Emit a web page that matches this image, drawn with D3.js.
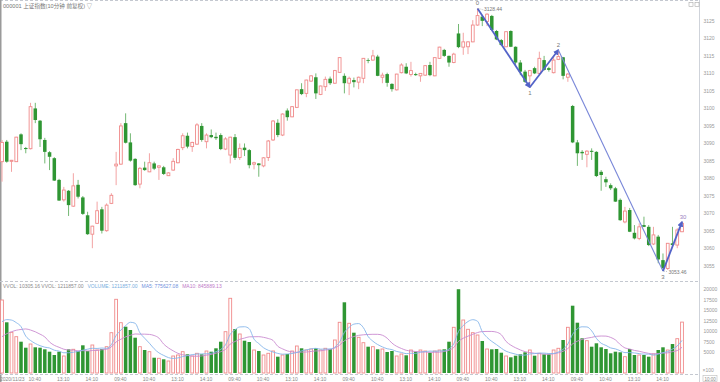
<!DOCTYPE html>
<html><head><meta charset="utf-8">
<script src="https://cdn.jsdelivr.net/npm/d3@7"></script>
<style>
body{margin:0;background:#fff;}
svg{display:block;font-family:"Liberation Sans",Arial,"Noto Sans CJK SC",sans-serif;}
</style>
</head><body>
<svg id="c" width="720" height="382"></svg>
<script>
// ---------- data ----------
const title = "000001 上证指数(10分钟 前复权) ▽";
const firstDate = "2020/11/23";
const dayTimes = ["09:40","09:50","10:00","10:10","10:20","10:30","10:40","10:50","11:00","11:10","11:20","11:30",
                  "13:10","13:20","13:30","13:40","13:50","14:00","14:10","14:20","14:30","14:40","14:50","15:00"];
const labelTimes = ["09:40","10:40","13:10","14:10"];
const dayCount = 6;

const open = [3084.7,3090.4,3084.8,3084.7,3092.5,3088.6,3088.4,3099.9,3096.4,3090.9,
3087.4,3085.7,3079.5,3073.8,3076.4,3072.0,3078.1,3074.5,3069.4,3064.0,
3067.1,3071.1,3065.0,3072.8,3083.5,3084.0,3095.7,3090.2,3085.5,3078.3,
3083.0,3081.8,3084.2,3083.1,3083.1,3080.7,3082.3,3084.4,3088.7,3092.1,
3089.0,3089.7,3094.9,3090.4,3092.3,3091.8,3092.3,3088.3,3086.6,3091.7,
3085.9,3088.7,3088.0,3084.0,3084.2,3083.5,3085.9,3090.9,3095.8,3092.3,
3099.3,3097.5,3100.2,3105.4,3104.2,3107.7,3108.8,3103.9,3106.1,3108.4,
3107.1,3110.2,3109.2,3107.1,3108.0,3107.4,3108.5,3113.7,3113.7,3114.7,
3108.8,3109.7,3106.9,3105.2,3110.1,3111.8,3109.6,3109.7,3109.2,3109.4,
3112.3,3109.2,3114.2,3116.6,3114.9,3113.0,3121.3,3117.4,3117.5,3118.9,
3123.7,3126.1,3124.7,3126.3,3122.0,3119.4,3117.5,3122.0,3117.5,3113.0,
3110.4,3109.2,3111.4,3109.9,3113.7,3111.4,3110.1,3113.9,3114.5,3108.8,
3100.6,3090.2,3087.5,3086.8,3087.8,3087.5,3081.8,3079.7,3078.0,3077.1,
3073.8,3067.5,3070.9,3064.4,3062.8,3066.6,3066.1,3061.2,3063.3,3056.6,
3054.2,3061.4,3060.9,3064.7];
const high = [3090.9,3090.9,3085.2,3091.8,3092.8,3088.9,3101.5,3101.5,3096.6,3091.5,
3087.7,3086.0,3079.8,3077.5,3076.6,3081.4,3079.5,3074.9,3070.4,3066.4,
3073.3,3071.8,3072.8,3075.7,3087.5,3095.7,3098.5,3092.8,3085.7,3083.2,
3084.7,3087.1,3084.7,3083.7,3083.5,3081.7,3085.7,3088.4,3092.8,3093.0,
3090.4,3095.7,3095.7,3092.8,3093.9,3093.0,3092.8,3091.7,3091.8,3092.6,
3089.9,3089.9,3088.3,3084.7,3084.3,3086.0,3090.9,3096.6,3096.8,3098.5,
3099.9,3100.6,3105.3,3107.1,3108.1,3109.4,3109.9,3106.4,3109.0,3109.0,
3110.9,3114.5,3109.9,3109.0,3108.7,3109.0,3114.3,3114.2,3116.6,3115.2,
3110.1,3110.1,3107.1,3109.8,3112.8,3112.8,3113.2,3110.1,3110.0,3112.3,
3113.2,3114.5,3117.5,3116.9,3115.0,3115.8,3124.0,3121.5,3119.1,3125.1,
3128.44,3126.6,3127.1,3126.6,3122.3,3119.7,3121.9,3122.2,3117.6,3113.7,
3110.9,3110.9,3111.8,3116.1,3114.9,3111.8,3114.7,3116.6,3114.6,3110.0,
3100.9,3090.9,3088.0,3088.0,3088.5,3087.7,3082.3,3080.4,3078.5,3077.5,
3074.2,3071.8,3071.5,3066.6,3067.1,3069.0,3066.6,3066.1,3063.8,3058.5,
3061.5,3066.1,3065.7,3067.5];
const low = [3079.0,3084.4,3081.8,3084.6,3088.0,3087.1,3088.2,3095.7,3088.9,3084.2,
3082.3,3079.2,3073.5,3073.3,3069.2,3071.8,3074.2,3069.5,3063.8,3060.0,
3066.9,3064.2,3064.7,3072.6,3078.0,3083.8,3089.9,3084.7,3077.8,3077.1,
3082.1,3081.7,3082.3,3079.5,3080.9,3080.6,3082.1,3084.2,3088.0,3088.5,
3087.5,3089.5,3090.4,3088.5,3091.4,3090.9,3088.0,3088.0,3084.2,3085.2,
3085.2,3086.3,3082.8,3082.5,3080.4,3083.1,3084.9,3090.6,3091.7,3092.0,
3096.4,3097.4,3100.0,3103.7,3103.1,3107.5,3102.6,3103.7,3104.9,3106.6,
3106.9,3110.0,3104.2,3103.7,3105.9,3105.4,3107.1,3112.8,3113.5,3109.1,
3107.1,3106.1,3104.7,3105.0,3109.9,3109.7,3109.0,3109.2,3107.5,3109.2,
3109.1,3109.1,3114.0,3114.6,3111.8,3112.8,3117.1,3115.2,3115.4,3118.8,
3123.5,3123.4,3123.4,3122.2,3119.4,3117.7,3117.4,3117.4,3112.3,3109.4,
3107.2,3105.93,3109.7,3109.7,3110.7,3110.4,3109.9,3113.7,3108.2,3107.5,
3090.0,3083.5,3085.2,3083.1,3085.2,3080.3,3076.4,3077.5,3076.6,3073.2,
3067.8,3067.1,3064.6,3062.5,3062.3,3066.0,3060.6,3060.9,3055.7,3053.46,
3053.8,3060.4,3060.0,3064.6];
const close = [3090.2,3084.7,3085.1,3091.7,3089.7,3088.3,3100.4,3096.6,3091.1,3087.5,
3086.1,3079.3,3073.6,3076.6,3072.3,3077.8,3074.7,3069.8,3064.0,3066.3,
3070.7,3065.0,3072.3,3075.1,3084.0,3094.9,3090.1,3085.0,3078.0,3082.8,
3082.3,3084.4,3082.7,3083.5,3081.2,3081.5,3084.8,3088.2,3092.1,3089.0,
3090.2,3095.2,3090.9,3092.3,3091.7,3091.4,3088.3,3091.2,3091.7,3085.8,
3088.5,3088.0,3083.7,3084.4,3083.7,3085.8,3090.6,3096.3,3092.3,3098.3,
3097.4,3100.4,3105.2,3104.0,3108.0,3109.2,3104.2,3106.3,3108.2,3107.1,
3110.7,3114.4,3107.1,3108.5,3107.4,3108.8,3114.2,3113.5,3114.9,3109.2,
3109.4,3107.2,3105.4,3109.7,3112.3,3109.9,3110.7,3109.4,3109.9,3112.1,
3109.4,3114.4,3117.4,3114.9,3113.0,3115.4,3117.4,3118.9,3118.9,3123.7,
3126.4,3124.9,3126.8,3122.3,3119.6,3118.0,3121.8,3117.5,3113.0,3110.4,
3107.5,3110.7,3109.9,3114.2,3110.9,3110.9,3113.7,3114.7,3109.2,3109.7,
3090.2,3087.1,3087.1,3087.7,3087.5,3080.6,3080.9,3078.8,3077.1,3073.3,
3068.0,3070.6,3064.7,3062.8,3066.1,3066.1,3060.9,3063.8,3056.8,3054.3,
3061.4,3060.9,3065.2,3067.1];
// volume in units of x100
const volume = [17380,12072,9691,8643,7453,6024,6905,6119,6024,5643,
5072,4286,5072,4048,5643,5643,5238,6595,5238,6667,
5476,5714,6262,9595,17548,11976,11024,10238,8405,6262,
5476,5072,3643,3500,3262,2857,4048,4286,5072,4452,
4048,4691,4452,5238,5072,5881,7453,9834,17786,10476,
9286,7691,7381,5476,5238,4286,4691,5238,3881,4286,
4524,5238,6429,5881,5476,5714,5881,5476,5881,5714,
7857,12072,16834,11834,9595,8500,7214,6262,6262,5643,
5714,5000,5238,4048,4524,4214,5476,5072,5476,5238,
4833,5238,5476,5643,7453,10881,19950,12619,10405,9595,
9048,7619,5714,5643,5714,4833,4048,3738,4119,4452,
4929,5476,4119,4691,4452,4452,5476,5881,7857,10881,
16024,11976,8262,7691,6262,7072,6119,5714,4691,5072,
4929,3881,5714,4286,4286,4286,3881,4524,5476,6119,
5476,6900,8171,12118.57];
// previous session bars (off-screen) used only to seed the moving averages
const prevVolume = [4800,5200,5000,5600,4800,9500,10260,11700,12157];

const priceTicks = [3055,3060,3065,3070,3075,3080,3085,3090,3095,3100,3105,3110,3115,3120,3125];
const volTicks = [5000,7500,10000,12500,15000,17500,20000];
const volUnit = "×100";

const waveIdx = [100,111,117,139,143];
const waveKind = ["high","low","high","low","high"];
const waveLabels = ["0","1","2","3","30"];

const volLegend = [
  {t:"VVOL: 10305.16  VVOL: 1211857.00", c:"#8a8a8a"},
  {t:"VOLUME: 1211857.00", c:"#79aee0"},
  {t:"MA5: 775627.08", c:"#6f8fdc"},
  {t:"MA10: 845889.13", c:"#c07ac8"}
];

// ---------- chart ----------
const N = open.length;
const svg = d3.select("#c");
const axisX = 699.5;
const x = d3.scaleLinear().domain([0, N-1]).range([2, 682]);
const y = d3.scaleLinear().domain([3050.64, 3130.85]).range([281, 0]);
const yv = d3.scaleLinear().domain([0, 20000]).range([373, 289]);

const RED = "#f08a8a", REDW = "#f3a3a3", GREEN = "#2f9633", GREENW = "#74b874";
const cats = [];
for (let d = 0; d < dayCount; d++) dayTimes.forEach(t => cats.push(t));

// frame lines
svg.append("line").attr("x1",0).attr("x2",axisX).attr("y1",0.5).attr("y2",0.5)
  .attr("stroke","#c4c8d0").attr("stroke-dasharray","3,2");
svg.append("line").attr("x1",0.75).attr("x2",0.75).attr("y1",0).attr("y2",382)
  .attr("stroke","#9a9a9a").attr("stroke-width",1.5);
svg.append("line").attr("x1",0).attr("x2",axisX).attr("y1",281.5).attr("y2",281.5)
  .attr("stroke","#c4c8d0").attr("stroke-dasharray","3,2");
svg.append("line").attr("x1",0).attr("x2",axisX).attr("y1",374.5).attr("y2",374.5)
  .attr("stroke","#c4c8d0").attr("stroke-dasharray","3,2");
svg.append("line").attr("x1",axisX).attr("x2",axisX).attr("y1",0).attr("y2",382)
  .attr("stroke","#cfd3da");

// title
svg.append("text").attr("x",3).attr("y",7.5).attr("font-size",5.6).attr("fill","#777").text(title);
// top-right icons
[689,695].forEach(ix => svg.append("rect").attr("x",ix).attr("y",2.5).attr("width",4).attr("height",4)
  .attr("fill","none").attr("stroke","#aaa").attr("stroke-width",0.6));

// price axis
const pa = svg.append("g").attr("transform",`translate(${axisX},0)`)
  .call(d3.axisRight(y).tickValues(priceTicks).tickSize(0).tickPadding(4).tickFormat(d3.format("d")));
pa.select(".domain").remove();
pa.selectAll("text").attr("font-size",5).attr("fill","#999").attr("font-family","Liberation Sans, Arial");

// volume axis
const va = svg.append("g").attr("transform",`translate(${axisX},0)`)
  .call(d3.axisRight(yv).tickValues(volTicks).tickSize(0).tickPadding(4).tickFormat(d3.format("d")));
va.select(".domain").remove();
va.selectAll("text").attr("font-size",5).attr("fill","#999").attr("font-family","Liberation Sans, Arial");
svg.append("text").attr("x",axisX+3).attr("y",372).attr("font-size",5).attr("fill","#999").text(volUnit);
svg.append("rect").attr("x",703).attr("y",375.5).attr("width",14).attr("height",6).attr("fill","none").attr("stroke","#bbb").attr("stroke-width",0.6);
svg.append("text").attr("x",704.5).attr("y",380.5).attr("font-size",4.5).attr("fill","#888").text("10:00");

// x axis labels
const xl = svg.append("g");
cats.forEach((t,i) => {
  let lab = null;
  if (i === 0) lab = firstDate;
  else if (labelTimes.includes(t)) lab = t;
  if (lab) xl.append("text").attr("x", x(i) - 2).attr("y", 380.5)
    .attr("font-size",5).attr("fill","#8a8a8a").text(lab);
});

// candles
const cg = svg.append("g");
for (let i = 0; i < N; i++) {
  const up = close[i] >= open[i];
  const cx = x(i);
  cg.append("line").attr("x1",cx).attr("x2",cx).attr("y1",y(high[i])).attr("y2",y(low[i]))
    .attr("stroke", up ? REDW : GREENW).attr("stroke-width",1);
  const top = y(Math.max(open[i], close[i]));
  const h = Math.max(0.8, Math.abs(y(open[i]) - y(close[i])));
  if (up) {
    cg.append("rect").attr("x",cx-1.4).attr("y",top).attr("width",2.8).attr("height",h)
      .attr("fill","#fff").attr("stroke",RED).attr("stroke-width",0.9);
  } else {
    cg.append("rect").attr("x",cx-1.75).attr("y",top).attr("width",3.5).attr("height",h)
      .attr("fill",GREEN);
  }
}

// volume bars
const vg = svg.append("g");
for (let i = 0; i < N; i++) {
  const up = close[i] >= open[i];
  const cx = x(i);
  const top = yv(volume[i]);
  if (up) {
    vg.append("rect").attr("x",cx-1.4).attr("y",top).attr("width",2.8).attr("height",yv(0)-top)
      .attr("fill","#fff").attr("stroke",RED).attr("stroke-width",0.9);
  } else {
    vg.append("rect").attr("x",cx-1.75).attr("y",top).attr("width",3.5).attr("height",yv(0)-top)
      .attr("fill",GREEN);
  }
}

// moving averages
const all = prevVolume.concat(volume);
function ma(n){
  return volume.map((v,i) => {
    const j = i + prevVolume.length;
    return d3.mean(all.slice(j-n+1, j+1));
  });
}
const line = d3.line().x((d,i)=>x(i)).y(d=>yv(d)).curve(d3.curveMonotoneX);
svg.append("path").attr("d", line(ma(10))).attr("fill","none").attr("stroke","#c98bd0").attr("stroke-width",0.9);
svg.append("path").attr("d", line(ma(5))).attr("fill","none").attr("stroke","#86b6ea").attr("stroke-width",0.9);

// volume legend
let lx = 3;
const lg = svg.append("g");
volLegend.forEach(item => {
  const t = lg.append("text").attr("x",lx).attr("y",287.5).attr("font-size",5).attr("fill",item.c).text(item.t);
  lx += t.node().getComputedTextLength() + 4;
});

// wave (zigzag) lines
const WAVE = "#5363c8";
const defs = svg.append("defs");
defs.append("marker").attr("id","arr").attr("viewBox","0 0 10 10").attr("refX",8).attr("refY",5)
  .attr("markerWidth",6).attr("markerHeight",6).attr("markerUnits","userSpaceOnUse").attr("orient","auto")
  .append("path").attr("d","M0,0 L10,5 L0,10 z").attr("fill",WAVE);
const wpts = waveIdx.map((idx,k) => [x(idx), y(waveKind[k]==="high" ? high[idx] : low[idx])]);
for (let k = 0; k < wpts.length-1; k++) {
  const thin = (k === 2);
  svg.append("line").attr("x1",wpts[k][0]).attr("y1",wpts[k][1]).attr("x2",wpts[k+1][0]).attr("y2",wpts[k+1][1])
    .attr("stroke", thin ? "#7886d8" : WAVE).attr("stroke-width", thin ? 1.1 : 1.8)
    .attr("marker-end", thin ? null : "url(#arr)");
}
// wave point labels
waveIdx.forEach((idx,k) => {
  const isHigh = waveKind[k]==="high";
  const py = wpts[k][1];
  svg.append("text").attr("x", wpts[k][0] + (k===4?1:0)).attr("y", isHigh ? py-3 : py+7.5)
    .attr("text-anchor","middle").attr("font-size",6).attr("fill", k===4 ? "#9b7fc0" : "#777")
    .text(waveLabels[k]);
});
// extreme value labels
const hiI = waveIdx[0], loI = waveIdx[3];
svg.append("line").attr("x1",x(hiI)+1).attr("y1",y(high[hiI])).attr("x2",x(hiI)+6).attr("y2",y(high[hiI])+1.5)
  .attr("stroke","#999").attr("stroke-width",0.6).attr("stroke-dasharray","1,1");
svg.append("text").attr("x",x(hiI)+6.5).attr("y",y(high[hiI])+3).attr("font-size",5).attr("fill","#777").text(d3.format(".2f")(high[hiI]));
svg.append("line").attr("x1",x(loI)+1).attr("y1",y(low[loI])).attr("x2",x(loI)+5).attr("y2",y(low[loI])+0.5)
  .attr("stroke","#999").attr("stroke-width",0.6).attr("stroke-dasharray","1,1");
svg.append("text").attr("x",x(loI)+5.5).attr("y",y(low[loI])+2.5).attr("font-size",5).attr("fill","#777").text(d3.format(".2f")(low[loI]));
</script>
</body></html>
